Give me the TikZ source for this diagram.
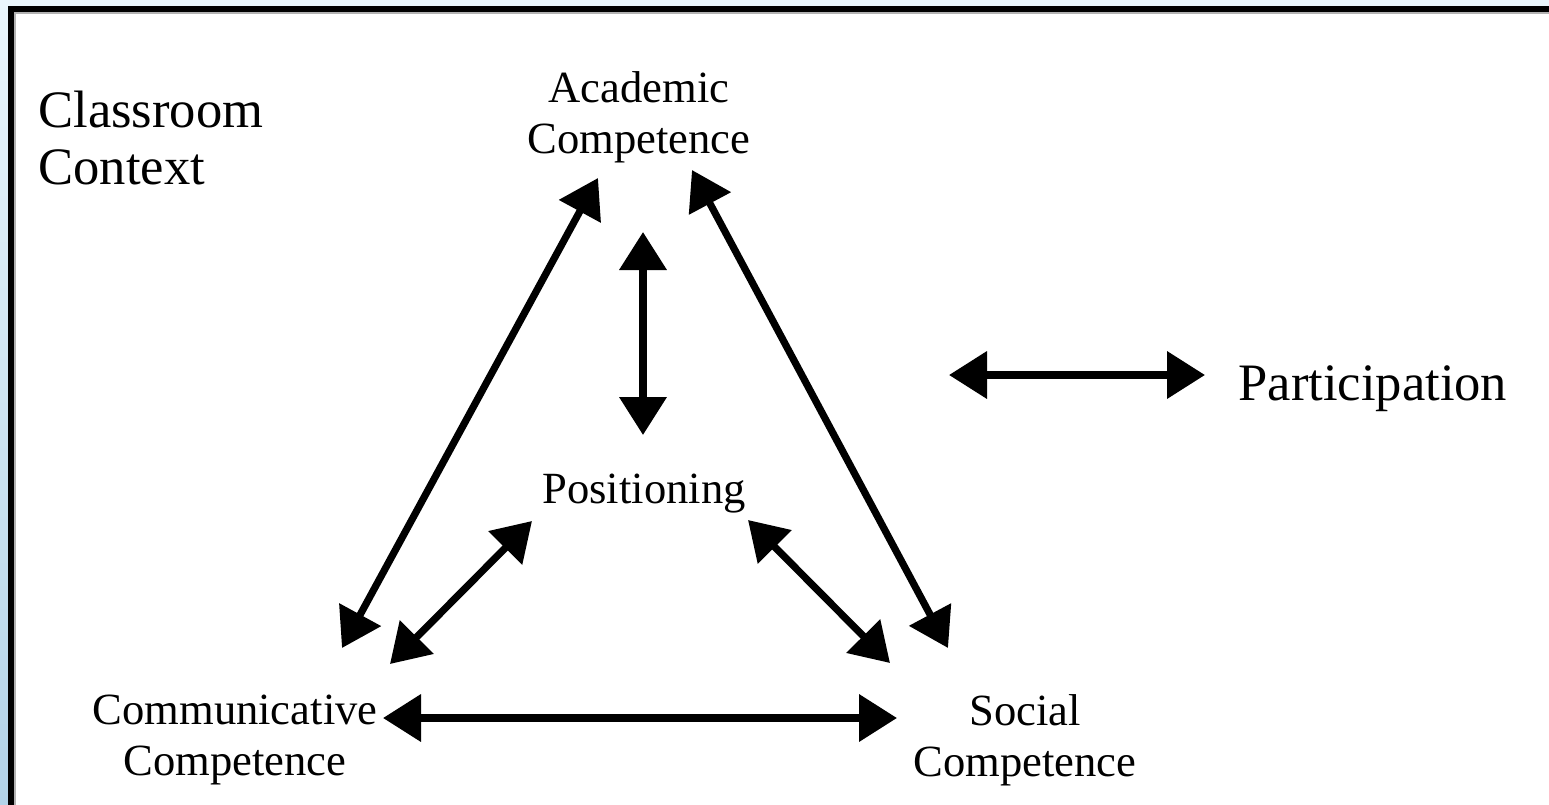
\documentclass[tikz,border=0pt]{standalone}
\usepackage{fontspec}
\setmainfont{Liberation Serif}
\usetikzlibrary{arrows.meta}
\definecolor{bgtop}{HTML}{EAF6FC}
\definecolor{bgbot}{HTML}{B3D3E8}
\tikzset{
  lbl/.style={inner sep=0pt, align=center, font=\fontsize{22.3}{25.5}\selectfont},
  biglbl/.style={inner sep=0pt, align=left, font=\fontsize{26.3}{28.5}\selectfont},
  dblarrow/.style={line width=3.6pt, {Triangle[length=19pt,width=23pt]}-{Triangle[length=19pt,width=23pt]}}
}
\begin{document}
\begin{tikzpicture}[x=0.5pt,y=-0.5pt]
\useasboundingbox (0,0) rectangle (1549,804);
% background and frame
\shade[top color=bgtop, bottom color=bgbot] (0,0) rectangle (1549,804);
\fill[white] (14,12) rectangle (1560,815);
\fill[black] (8,6) rectangle (1560,12);
\fill[black] (8,6) rectangle (14,815);
\fill[gray!60] (14,12) rectangle (1560,14);
\fill[gray!60] (14,12) rectangle (16,815);

% labels
\node[biglbl, anchor=west] (ctx) at (38,138) {Classroom\\Context};
\node[lbl] (acad) at (639,117) {Academic\\Competence};
\node[lbl, anchor=base] (pos) at (644,503) {Positioning};
\node[lbl] (comm) at (235,740) {Communicative\\Competence};
\node[lbl] (soc) at (1025,740) {Social\\Competence};
\node[biglbl, anchor=base west] (part) at (1238,400) {Participation};

% arrow end points
\coordinate (cA1) at (342,648);
\coordinate (aC1) at (598,178);
\coordinate (aS1) at (692,170);
\coordinate (sA1) at (948,648);
\coordinate (aP) at (643,232);
\coordinate (pA) at (643,435);
\coordinate (cP) at (390,664);
\coordinate (pC) at (532,521);
\coordinate (pS) at (748,520);
\coordinate (sP) at (890,663);
\coordinate (cS) at (383,718);
\coordinate (sC) at (897,718);
\coordinate (partL) at (949,375);
\coordinate (partR) at (1205,375);

\draw[dblarrow] (cA1) -- (aC1);
\draw[dblarrow] (aS1) -- (sA1);
\draw[dblarrow] (aP) -- (pA);
\draw[dblarrow] (cP) -- (pC);
\draw[dblarrow] (pS) -- (sP);
\draw[dblarrow] (cS) -- (sC);
\draw[dblarrow] (partL) -- (partR);
\end{tikzpicture}
\end{document}
